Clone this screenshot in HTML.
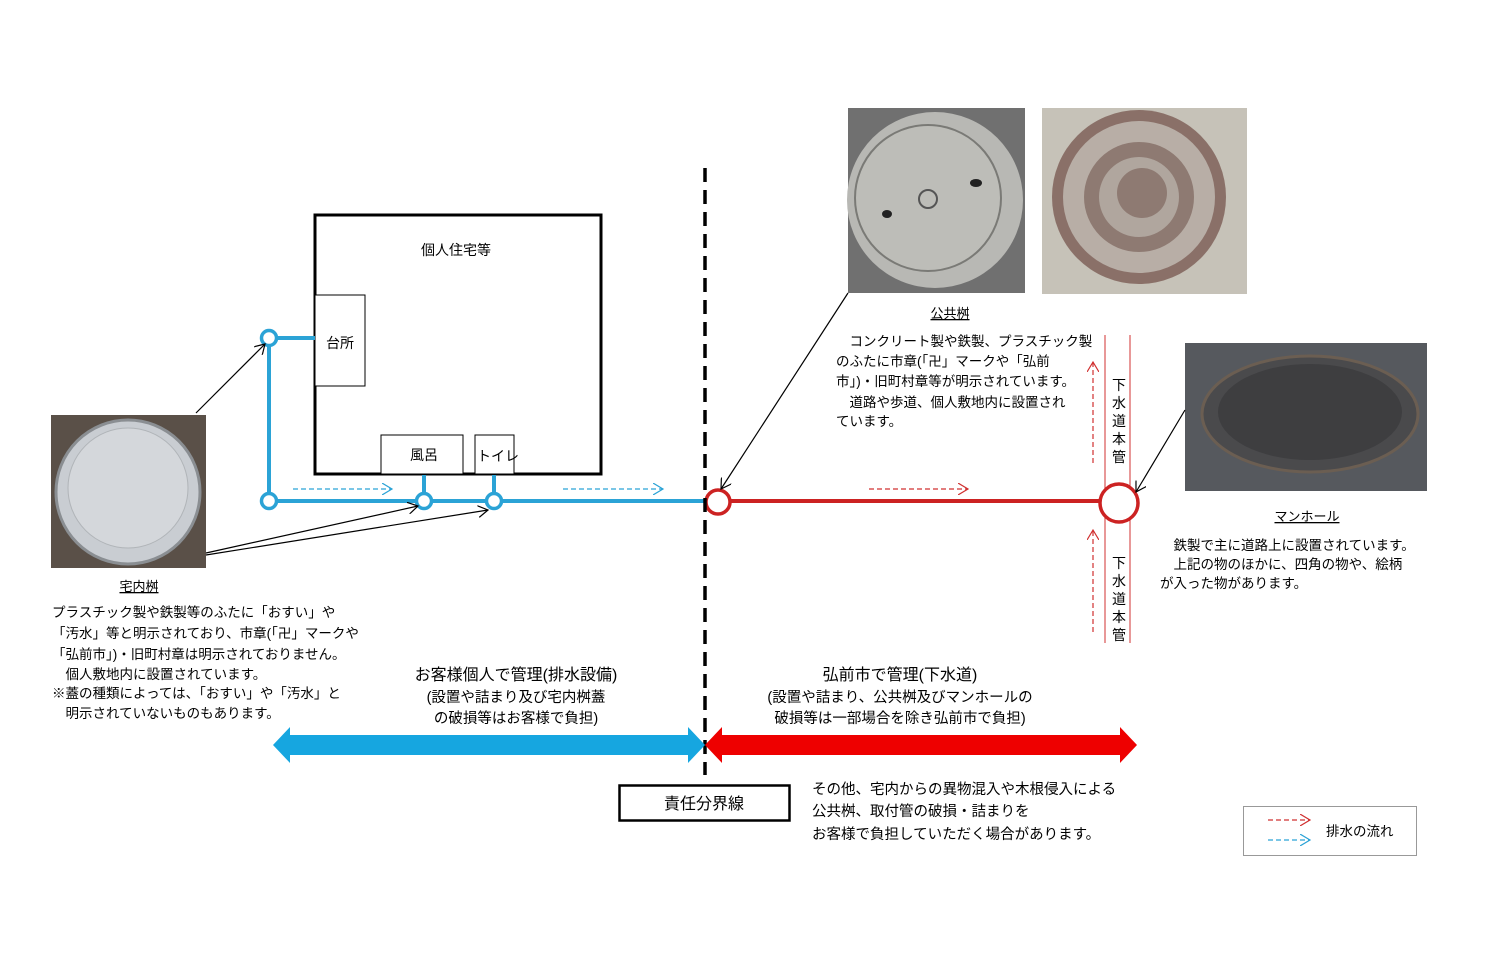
<!DOCTYPE html>
<html><head><meta charset="utf-8"><style>
body{margin:0;background:#fff}
svg{display:block}
text{font-family:"Liberation Sans","Noto Sans CJK JP",sans-serif;fill:#000}
</style></head><body>
<svg width="1495" height="961" viewBox="0 0 1495 961" xmlns="http://www.w3.org/2000/svg">
<defs>
<marker id="ah" markerWidth="12" markerHeight="12" refX="10" refY="6" orient="auto" markerUnits="userSpaceOnUse"><path d="M0,0 L10,6 L0,12" fill="none" stroke="#000" stroke-width="1.2"/></marker>
<marker id="ahb" markerWidth="12" markerHeight="12" refX="10" refY="6" orient="auto" markerUnits="userSpaceOnUse"><path d="M0,0 L10,6 L0,12" fill="none" stroke="#2ba3d6" stroke-width="1.2"/></marker>
<marker id="ahr" markerWidth="12" markerHeight="12" refX="10" refY="6" orient="auto" markerUnits="userSpaceOnUse"><path d="M0,0 L10,6 L0,12" fill="none" stroke="#d03030" stroke-width="1.2"/></marker>
</defs>

<!-- photos -->
<rect x="51" y="415" width="155" height="153" fill="#5a5048"/>
<ellipse cx="128" cy="492" rx="72" ry="72" fill="#c9cdd2" stroke="#8a8e92" stroke-width="3"/>
<ellipse cx="128" cy="488" rx="60" ry="60" fill="#d4d7db" stroke="#b0b4b8"/>

<rect x="848" y="108" width="177" height="185" fill="#707070"/>
<circle cx="935" cy="200" r="88" fill="#b8b8b4"/>
<circle cx="928" cy="198" r="73" fill="#bdbdb8" stroke="#7a7a76" stroke-width="2"/>
<circle cx="928" cy="199" r="9" fill="none" stroke="#555" stroke-width="2"/>
<ellipse cx="976" cy="183" rx="6" ry="4" fill="#222"/>
<ellipse cx="887" cy="214" rx="5" ry="4" fill="#222"/>

<rect x="1042" y="108" width="205" height="186" fill="#c6c2b8"/>
<circle cx="1139" cy="197" r="87" fill="#8a7068"/>
<circle cx="1139" cy="197" r="76" fill="#b8aea6"/>
<circle cx="1139" cy="197" r="55" fill="#8e7a72"/>
<circle cx="1139" cy="197" r="40" fill="#b0a69e"/>
<circle cx="1142" cy="193" r="25" fill="#8e7a72"/>

<rect x="1185" y="343" width="242" height="148" fill="#56595e"/>
<ellipse cx="1310" cy="414" rx="108" ry="58" fill="#4a4a4c" stroke="#6b5e52" stroke-width="3"/>
<ellipse cx="1310" cy="412" rx="92" ry="48" fill="#3e3e40"/>

<!-- house -->
<rect x="315" y="215" width="286" height="259" fill="none" stroke="#000" stroke-width="3"/>
<text x="456" y="255" font-size="14" text-anchor="middle">個人住宅等</text>
<rect x="315" y="295" width="50" height="91" fill="#fff" stroke="#000"/>
<text x="340" y="348" font-size="14" text-anchor="middle">台所</text>
<rect x="381" y="435" width="82" height="39" fill="#fff" stroke="#000"/>
<text x="424" y="460" font-size="14" text-anchor="middle">風呂</text>
<rect x="475" y="435" width="39" height="39" fill="#fff" stroke="#000"/>
<text x="477" y="461" font-size="14">トイレ</text>

<!-- blue pipes -->
<g stroke="#2ba3d6" stroke-width="4" fill="none">
<line x1="269" y1="338" x2="269" y2="501"/>
<line x1="269" y1="338" x2="315" y2="338"/>
<line x1="269" y1="501" x2="705" y2="501"/>
<line x1="424" y1="475" x2="424" y2="501"/>
<line x1="494" y1="475" x2="494" y2="501"/>
</g>
<g stroke="#2ba3d6" stroke-width="3.5" fill="#fff">
<circle cx="269" cy="338" r="7.5"/><circle cx="269" cy="501" r="7.5"/>
<circle cx="424" cy="501" r="7.5"/><circle cx="494" cy="501" r="7.5"/>
</g>
<line x1="293" y1="489" x2="392" y2="489" stroke="#2ba3d6" stroke-width="1.2" stroke-dasharray="5,3" marker-end="url(#ahb)"/>
<line x1="563" y1="489" x2="663" y2="489" stroke="#2ba3d6" stroke-width="1.2" stroke-dasharray="5,3" marker-end="url(#ahb)"/>

<!-- red pipes -->
<line x1="1105" y1="335" x2="1105" y2="643" stroke="#d03030" stroke-width="1"/>
<line x1="1130" y1="335" x2="1130" y2="643" stroke="#d03030" stroke-width="1"/>
<line x1="730" y1="501" x2="1100" y2="501" stroke="#cc2222" stroke-width="4"/>
<circle cx="718" cy="502" r="12" fill="#fff" stroke="#cc2222" stroke-width="3.5"/>
<circle cx="1119" cy="503" r="19" fill="#fff" stroke="#cc2222" stroke-width="3.5"/>
<line x1="869" y1="489" x2="968" y2="489" stroke="#d03030" stroke-width="1.2" stroke-dasharray="5,3" marker-end="url(#ahr)"/>
<line x1="1093" y1="463" x2="1093" y2="362" stroke="#d03030" stroke-width="1.2" stroke-dasharray="5,3" marker-end="url(#ahr)"/>
<line x1="1093" y1="632" x2="1093" y2="530" stroke="#d03030" stroke-width="1.2" stroke-dasharray="5,3" marker-end="url(#ahr)"/>
<g font-size="14" text-anchor="middle">
<text x="1119" y="390">下</text><text x="1119" y="408">水</text><text x="1119" y="426">道</text><text x="1119" y="444">本</text><text x="1119" y="462">管</text>
<text x="1119" y="568">下</text><text x="1119" y="586">水</text><text x="1119" y="604">道</text><text x="1119" y="622">本</text><text x="1119" y="640">管</text>
</g>

<!-- dashed boundary -->
<line x1="705" y1="168" x2="705" y2="775" stroke="#000" stroke-width="3.5" stroke-dasharray="14,8"/>

<!-- pointer arrows -->
<g stroke="#000" stroke-width="1.2" fill="none">
<line x1="196" y1="413" x2="265" y2="344" marker-end="url(#ah)"/>
<line x1="206" y1="553" x2="418" y2="506" marker-end="url(#ah)"/>
<line x1="206" y1="555" x2="488" y2="510" marker-end="url(#ah)"/>
<line x1="848" y1="293" x2="721" y2="489" marker-end="url(#ah)"/>
<line x1="1185" y1="410" x2="1136" y2="492" marker-end="url(#ah)"/>
</g>

<!-- text blocks -->
<text x="139" y="591" font-size="13" text-anchor="middle" text-decoration="underline">宅内桝</text>
<g font-size="13.5">
<text x="52" y="617">プラスチック製や鉄製等のふたに「おすい」や</text>
<text x="52" y="638">「汚水」等と明示されており、市章(「卍」マークや</text>
<text x="52" y="659">「弘前市」)・旧町村章は明示されておりません。</text>
<text x="52" y="679">　個人敷地内に設置されています。</text>
<text x="52" y="698">※蓋の種類によっては、「おすい」や「汚水」と</text>
<text x="52" y="718">　明示されていないものもあります。</text>
</g>
<text x="950" y="318" font-size="13" text-anchor="middle" text-decoration="underline">公共桝</text>
<g font-size="13.5">
<text x="836" y="346">　コンクリート製や鉄製、プラスチック製</text>
<text x="836" y="366">のふたに市章(「卍」マークや「弘前</text>
<text x="836" y="386">市」)・旧町村章等が明示されています。</text>
<text x="836" y="407">　道路や歩道、個人敷地内に設置され</text>
<text x="836" y="426">ています。</text>
</g>
<text x="1307" y="521" font-size="13" text-anchor="middle" text-decoration="underline">マンホール</text>
<g font-size="13.5">
<text x="1160" y="550">　鉄製で主に道路上に設置されています。</text>
<text x="1160" y="569">　上記の物のほかに、四角の物や、絵柄</text>
<text x="1160" y="588">が入った物があります。</text>
</g>

<g text-anchor="middle">
<text x="516" y="680" font-size="16">お客様個人で管理(排水設備)</text>
<text x="516" y="702" font-size="14.5">(設置や詰まり及び宅内桝蓋</text>
<text x="516" y="723" font-size="14.5">の破損等はお客様で負担)</text>
<text x="900" y="680" font-size="16">弘前市で管理(下水道)</text>
<text x="900" y="702" font-size="14.5">(設置や詰まり、公共桝及びマンホールの</text>
<text x="900" y="723" font-size="14.5">破損等は一部場合を除き弘前市で負担)</text>
</g>

<!-- big arrows -->
<path d="M273,745 L290,727 L290,735 L688,735 L688,727 L705,745 L688,763 L688,755 L290,755 L290,763 Z" fill="#16a6e0"/>
<path d="M705,745 L722,727 L722,735 L1120,735 L1120,727 L1137,745 L1120,763 L1120,755 L722,755 L722,763 Z" fill="#ee0000"/>

<rect x="619.5" y="785.5" width="170" height="35" fill="#fff" stroke="#000" stroke-width="2.5"/>
<text x="704" y="809" font-size="16" text-anchor="middle">責任分界線</text>
<g font-size="14.5">
<text x="812" y="794">その他、宅内からの異物混入や木根侵入による</text>
<text x="812" y="816">公共桝、取付管の破損・詰まりを</text>
<text x="812" y="839">お客様で負担していただく場合があります。</text>
</g>

<!-- legend -->
<rect x="1243.5" y="806.5" width="173" height="49" fill="#fff" stroke="#999"/>
<line x1="1268" y1="820" x2="1310" y2="820" stroke="#d03030" stroke-width="1.2" stroke-dasharray="5,3" marker-end="url(#ahr)"/>
<line x1="1268" y1="840" x2="1310" y2="840" stroke="#2ba3d6" stroke-width="1.2" stroke-dasharray="5,3" marker-end="url(#ahb)"/>
<text x="1326" y="836" font-size="13.5">排水の流れ</text>
</svg>
</body></html>
